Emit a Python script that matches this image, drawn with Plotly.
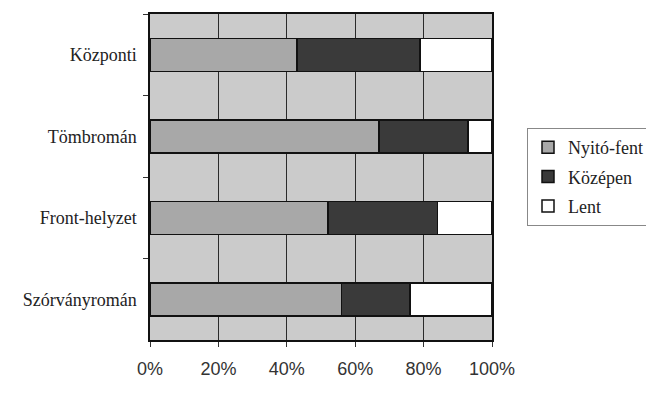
import plotly.graph_objects as go

categories = ["Központi", "Tömbromán", "Front-helyzet", "Szórványromán"]
series_names = ["Nyitó-fent", "Középen", "Lent"]
nyito_fent = [43, 67, 52, 56]
kozepen = [36, 26, 32, 20]
lent = [21, 7, 16, 24]
x_ticks = [0, 20, 40, 60, 80, 100]
x_tick_labels = ["0%", "20%", "40%", "60%", "80%", "100%"]

colors = ["#a8a8a8", "#3a3a3a", "#ffffff"]
values = [nyito_fent, kozepen, lent]

fig = go.Figure()
for name, vals, col in zip(series_names, values, colors):
    fig.add_trace(go.Bar(
        y=categories, x=vals, name=name, orientation="h", legendgroup=name,
        marker=dict(color=col, line=dict(color="#111111", width=1.5)),
    ))

# the page body has an 8px default margin, so the figure is offset by 8px
OFF = 8
W, H = 654 - OFF, 400 - OFF
ml, mt = 150 - OFF, 14 - OFF
mr = W - (492 - OFF)
mb = H - (340 - OFF)
pw = W - ml - mr
ph = H - mt - mb

fig.update_layout(
    width=W, height=H,
    margin=dict(l=ml, r=mr, t=mt, b=mb, pad=0, autoexpand=False),
    barmode="stack", bargap=0.595,
    plot_bgcolor="#cbcbcb", paper_bgcolor="white",
    showlegend=True,
    legend=dict(
        x=1 + ((527 - OFF) - (ml + pw)) / pw, y=1 - ((128 - OFF) - mt) / ph,
        xanchor="left", yanchor="top",
        bordercolor="#888888", borderwidth=1, bgcolor="white",
        font=dict(family="Liberation Serif", size=18, color="#222222"),
        traceorder="grouped", tracegroupgap=3, itemwidth=30,
    ),
    xaxis=dict(
        range=[0, 100], tickvals=x_ticks, ticktext=x_tick_labels,
        showgrid=True, gridcolor="#2a2a2a", gridwidth=1,
        showline=True, linecolor="#111111", linewidth=1.5, mirror=True,
        ticks="outside", ticklen=5, tickcolor="#333333",
        ticklabelstandoff=7,
        tickfont=dict(family="Liberation Sans", size=18, color="#333333"),
        zeroline=False, fixedrange=True,
    ),
    yaxis=dict(
        categoryorder="array", categoryarray=categories, autorange="reversed",
        showgrid=False,
        showline=True, linecolor="#111111", linewidth=1.5, mirror=True,
        ticks="outside", ticklen=5, tickcolor="#333333", tickson="boundaries",
        ticklabelstandoff=8,
        tickfont=dict(family="Liberation Serif", size=18, color="#222222"),
        fixedrange=True,
    ),
)

fig.write_html("out.html")
